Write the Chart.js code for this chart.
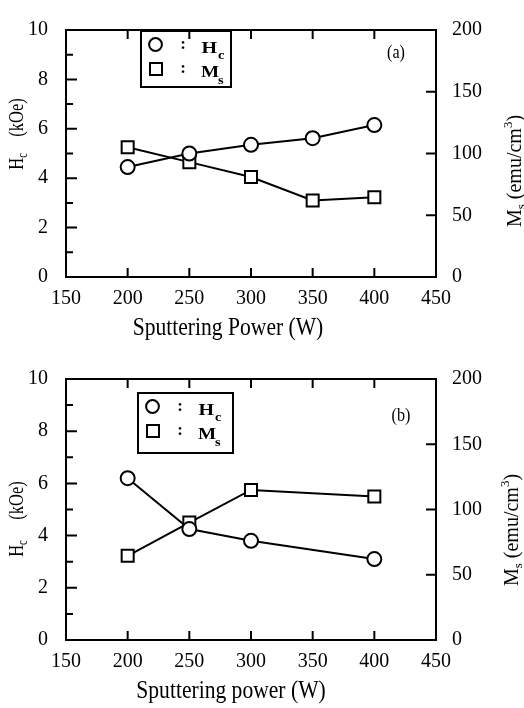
<!DOCTYPE html>
<html><head><meta charset="utf-8">
<script src="https://cdn.jsdelivr.net/npm/chart.js@4.4.1/dist/chart.umd.min.js"></script>
<style>
html,body{margin:0;padding:0;background:#fff;}
#wrap{position:relative;width:524px;height:708px;overflow:hidden;}
canvas{position:absolute;left:0;}
</style></head><body>
<div id="wrap">
<canvas id="ca" width="524" height="340" style="top:0;width:524px;height:340px"></canvas>
<canvas id="cb" width="524" height="368" style="top:340px;width:524px;height:368px"></canvas>
</div>
<script>
// ---- data ----
const powerA = [200, 250, 300, 350, 400];
const hcA    = [4.45, 5.0, 5.35, 5.62, 6.15];     // kOe
const msA    = [105, 93, 81, 62, 64.5];          // emu/cm3

const powerB = [200, 250, 300, 400];
const hcB    = [6.2, 4.25, 3.8, 3.1];            // kOe
const msB    = [64.5, 90, 115, 110];             // emu/cm3

const xRange  = [150, 450];
const hcRange = [0, 10];
const msRange = [0, 200];

const SERIF = "'Liberation Serif','Times New Roman',serif";

function drawRich(ctx, parts, x, y, rot, sx) {
  ctx.save();
  ctx.translate(x, y);
  if (rot) ctx.rotate(rot);
  ctx.scale(sx, 1);
  let total = 0;
  parts.forEach(p => { ctx.font = p.f; p.w = ctx.measureText(p.t).width; total += p.w; });
  let cx = -total / 2;
  ctx.textBaseline = 'alphabetic';
  ctx.textAlign = 'left';
  ctx.fillStyle = '#000';
  parts.forEach(p => { ctx.font = p.f; ctx.fillText(p.t, cx, p.dy || 0); cx += p.w; });
  ctx.restore();
}

function drawWide(ctx, text, font, x, y, sx) {
  ctx.save();
  ctx.translate(x, y);
  ctx.scale(sx, 1);
  ctx.font = font;
  ctx.textAlign = 'left';
  ctx.textBaseline = 'alphabetic';
  ctx.fillStyle = '#000';
  ctx.fillText(text, 0, 0);
  ctx.restore();
}

const decor = {
  id: 'decor',
  afterDraw(chart, args, o) {
    const ctx = chart.ctx;
    const ca = chart.chartArea;
    ctx.save();
    ctx.strokeStyle = '#000';
    ctx.lineWidth = 2;
    ctx.strokeRect(ca.left, ca.top, ca.right - ca.left, ca.bottom - ca.top);
    ctx.beginPath();
    const sx = chart.scales.x, sl = chart.scales.yL, sr = chart.scales.yR;
    sx.ticks.forEach(t => {
      if (t.value <= sx.min || t.value >= sx.max) return;
      const p = sx.getPixelForValue(t.value);
      ctx.moveTo(p, ca.bottom); ctx.lineTo(p, ca.bottom - 9);
      ctx.moveTo(p, ca.top); ctx.lineTo(p, ca.top + 9);
    });
    sl.ticks.forEach(t => {
      if (t.value <= sl.min || t.value >= sl.max) return;
      const p = sl.getPixelForValue(t.value);
      const len = (t.value % 2 === 0) ? 11 : 7;
      ctx.moveTo(ca.left, p); ctx.lineTo(ca.left + len, p);
    });
    sr.ticks.forEach(t => {
      if (t.value <= sr.min || t.value >= sr.max) return;
      const p = sr.getPixelForValue(t.value);
      ctx.moveTo(ca.right, p); ctx.lineTo(ca.right - 10, p);
    });
    ctx.stroke();

    // axis titles
    const lbig = '22px ' + SERIF, lsub = '14px ' + SERIF;
    drawRich(ctx, [{t:'H', f:lbig}, {t:'c', f:lsub, dy:4}, {t:o.leftGap + '(kOe)', f:lbig}],
      23, o.leftY, -Math.PI/2, 0.75);
    const big = '20px ' + SERIF, sub = '13px ' + SERIF;
    drawRich(ctx, [{t:'M', f:big}, {t:'s', f:sub, dy:4}, {t:' (emu/cm', f:big}, {t:'3', f:sub, dy:-9}, {t:')', f:big}],
      o.rightX, o.rightY, -Math.PI/2, 1.0);
    drawRich(ctx, [{t:o.xTitle, f:'26px ' + SERIF}], o.xTitleX, o.xTitleY, 0, 0.83);
    drawRich(ctx, [{t:o.tag, f:'19px ' + SERIF}], o.tagX, o.tagY, 0, 0.85);

    // legend box
    const [bx, by, bw, bh] = o.box;
    ctx.lineWidth = 2;
    ctx.strokeRect(bx, by, bw, bh);
    ctx.beginPath();
    ctx.arc(bx + 14.5, by + 13.5, 6.4, 0, Math.PI * 2);
    ctx.stroke();
    ctx.strokeRect(bx + 9, by + 32, 12, 12);
    ctx.fillStyle = '#000';
    ctx.textBaseline = 'middle'; ctx.textAlign = 'center';
    ctx.font = 'bold 17px ' + SERIF;
    ctx.fillText(':', bx + 42, by + 14);
    ctx.fillText(':', bx + 42, by + 38);
    const bold = 'bold 16px ' + SERIF, bsub = 'bold 12px ' + SERIF;
    drawWide(ctx, 'H', bold, bx + 60.5, by + 21.5, 1.25);
    drawWide(ctx, 'M', bold, bx + 60, by + 45.5, 1.2);
    drawWide(ctx, 'c', bsub, bx + 77, by + 27.5, 1.2);
    drawWide(ctx, 's', bsub, bx + 77, by + 53, 1.2);
    ctx.restore();
  }
};

function makeChart(id, xs, hc, ms, o) {
  const tickFont = {family: SERIF, size: 20};
  return new Chart(document.getElementById(id), {
    type: 'line',
    data: {
      datasets: [
        {label: 'Hc', data: xs.map((x, i) => ({x, y: hc[i]})), yAxisID: 'yL',
         borderColor: '#000', borderWidth: 2, tension: 0,
         pointStyle: 'circle', pointRadius: 7, pointBorderWidth: 2,
         pointBackgroundColor: '#fff', pointBorderColor: '#000'},
        {label: 'Ms', data: xs.map((x, i) => ({x, y: ms[i]})), yAxisID: 'yR',
         borderColor: '#000', borderWidth: 2, tension: 0,
         pointStyle: 'rect', pointRadius: 8.5, pointBorderWidth: 2,
         pointBackgroundColor: '#fff', pointBorderColor: '#000'}
      ]
    },
    options: {
      responsive: false, animation: false, devicePixelRatio: 1,
      layout: {padding: {top: o.top, left: 0, right: 0, bottom: 0}},
      plugins: {legend: {display: false}, tooltip: {enabled: false}, decor: o},
      scales: {
        x: {type: 'linear', min: xRange[0], max: xRange[1],
            ticks: {stepSize: 50, font: tickFont, color: '#000', padding: 10, maxRotation: 0, autoSkip: false},
            grid: {display: false, drawTicks: false}, border: {display: false},
            afterFit: s => { s.height = o.xh; }},
        yL: {position: 'left', min: hcRange[0], max: hcRange[1],
            ticks: {stepSize: 1, font: tickFont, color: '#000', padding: 18, autoSkip: false,
                    callback: v => (v % 2 === 0 ? String(v) : '')},
            grid: {display: false, drawTicks: false}, border: {display: false},
            afterFit: s => { s.width = 66; }},
        yR: {position: 'right', min: msRange[0], max: msRange[1],
            ticks: {stepSize: 50, font: tickFont, color: '#000', padding: 16, autoSkip: false},
            grid: {display: false, drawTicks: false}, border: {display: false},
            afterFit: s => { s.width = 88; }}
      }
    },
    plugins: [decor]
  });
}

makeChart('ca', powerA, hcA, msA, {
  top: 15, xh: 63, leftGap: '    ', leftY: 134, rightX: 521, rightY: 171,
  xTitle: 'Sputtering Power (W)', xTitleX: 228, xTitleY: 335,
  tag: '(a)', tagX: 396, tagY: 58, box: [141, 31, 90, 56]
});
makeChart('cb', powerB, hcB, msB, {
  top: 39, xh: 68, leftGap: '     ', leftY: 179, rightX: 518, rightY: 190,
  xTitle: 'Sputtering power (W)', xTitleX: 231, xTitleY: 358,
  tag: '(b)', tagX: 401, tagY: 81, box: [138, 53, 95, 60]
});
</script>
</body></html>
